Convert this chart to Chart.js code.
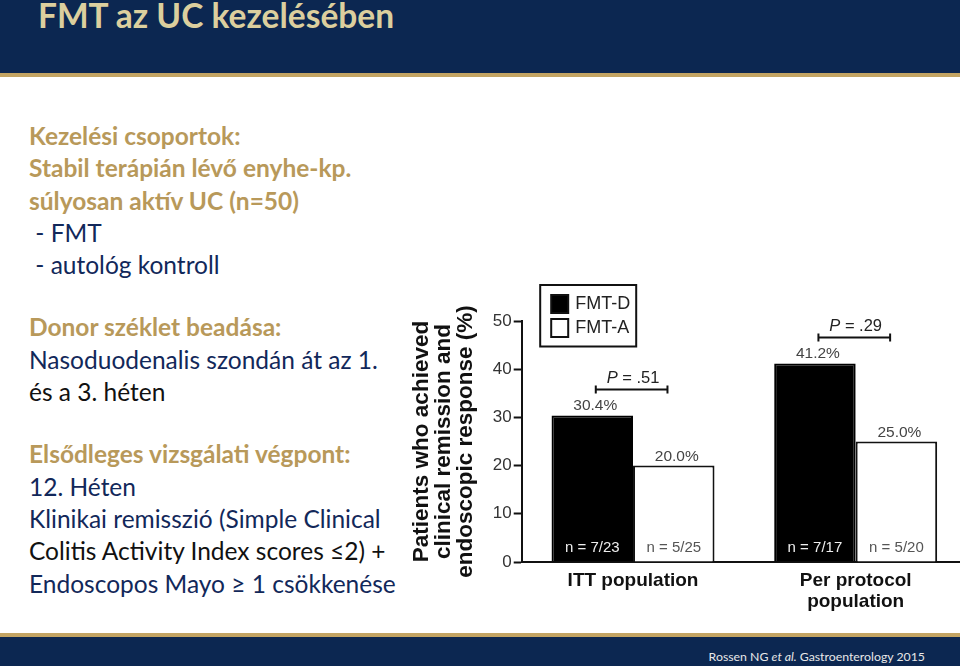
<!DOCTYPE html>
<html>
<head>
<meta charset="utf-8">
<script src="https://cdn.jsdelivr.net/npm/chart.js@4.4.1/dist/chart.umd.min.js"></script>
<style>
  html, body { margin: 0; padding: 0; background: #fff; overflow: hidden; }
  body { width: 960px; height: 666px; position: relative; font-family: Lato, "Liberation Sans", sans-serif; }
  #header { position: absolute; left: 0; top: 0; width: 960px; height: 73px; background: #0c2751; }
  #headerLine { position: absolute; left: 0; top: 73px; width: 960px; height: 4px; background: #c3a463; }
  #title { position: absolute; left: 38px; top: -5px; font-size: 33.5px; font-weight: bold; color: #dccf9e; white-space: nowrap; }
  #footerLine { position: absolute; left: 0; top: 633px; width: 960px; height: 4px; background: #c3a463; }
  #footer { position: absolute; left: 0; top: 637px; width: 960px; height: 29px; background: #0c2751; }
  #cite { position: absolute; right: 35px; top: 649px; font-size: 12.3px; color: #e8e8e8; white-space: nowrap; }
  #text { position: absolute; left: 29px; top: 120px; font-size: 24.5px; line-height: 32.3px; color: #12285a; white-space: nowrap; }
  #text .g { color: #b8995a; font-weight: bold; }
  #text .k { color: #111; }
  #text .gap { height: 30px; }
  #chartBox { position: absolute; left: 400px; top: 280px; width: 570px; height: 340px; }
</style>
</head>
<body>
<div id="header"></div>
<div id="headerLine"></div>
<div id="title">FMT az UC kezelésében</div>

<div id="text">
  <div class="g">Kezelési csoportok:</div>
  <div class="g">Stabil terápián lévő enyhe-kp.</div>
  <div class="g">súlyosan aktív UC (n=50)</div>
  <div>&nbsp;- FMT</div>
  <div>&nbsp;- autológ kontroll</div>
  <div class="gap"></div>
  <div class="g">Donor széklet beadása:</div>
  <div>Nasoduodenalis szondán át az 1.</div>
  <div class="k">és a 3. héten</div>
  <div class="gap"></div>
  <div class="g">Elsődleges vizsgálati végpont:</div>
  <div>12. Héten</div>
  <div>Klinikai remisszió (Simple Clinical</div>
  <div class="k">Colitis Activity Index scores ≤2) +</div>
  <div>Endoscopos Mayo ≥ 1 csökkenése</div>
</div>

<div id="chartBox"><canvas id="chart" width="570" height="340"></canvas></div>

<div id="footerLine"></div>
<div id="footer"></div>
<div id="cite">Rossen NG <i>et al.</i> Gastroenterology 2015</div>

<script>
// Chart values
var categories = [['ITT population'], ['Per protocol', 'population']];
var seriesNames = ['FMT-D', 'FMT-A'];
var fmtD = [30.4, 41.2];
var fmtA = [20.0, 25.0];
var countsD = ['n = 7/23', 'n = 7/17'];
var countsA = ['n = 5/25', 'n = 5/20'];
var pValues = ['.51', '.29'];
var yTicks = [0, 10, 20, 30, 40, 50];

var FONT = '"Liberation Sans", Arial, sans-serif';

// value labels, n labels, P brackets and the boxed legend
var annotations = {
  id: 'annotations',
  afterDatasetsDraw: function (chart) {
    var ctx = chart.ctx;
    var y = chart.scales.y;
    var metaD = chart.getDatasetMeta(0);
    var metaA = chart.getDatasetMeta(1);
    ctx.save();
    ctx.textAlign = 'center';
    ctx.textBaseline = 'alphabetic';
    [metaD, metaA].forEach(function (meta, di) {
      var vals = chart.data.datasets[di].data;
      meta.data.forEach(function (bar, i) {
        ctx.font = '15.5px ' + FONT;
        ctx.fillStyle = '#444';
        ctx.fillText(vals[i].toFixed(1) + '%', bar.x + 3, bar.y - 5);
        ctx.font = '15px ' + FONT;
        ctx.fillStyle = di === 0 ? '#eee' : '#555';
        ctx.fillText(di === 0 ? countsD[i] : countsA[i], bar.x, y.getPixelForValue(0) - 10);
      });
    });
    // P-value brackets
    metaD.data.forEach(function (barD, i) {
      var barA = metaA.data[i];
      var top = Math.min(barD.y, barA.y) - 26;
      var x1 = barD.x + 3.5, x2 = barA.x - 6.3;
      ctx.strokeStyle = '#111';
      ctx.lineWidth = 2;
      ctx.beginPath();
      ctx.moveTo(x1, top - 4); ctx.lineTo(x1, top + 4);
      ctx.moveTo(x1, top); ctx.lineTo(x2, top);
      ctx.moveTo(x2, top - 4); ctx.lineTo(x2, top + 4);
      ctx.stroke();
      var cx = (barD.x + barA.x) / 2;
      ctx.font = 'italic 16.5px ' + FONT;
      var pW = ctx.measureText('P').width;
      ctx.font = '16.5px ' + FONT;
      var rest = ' = ' + pValues[i];
      var rW = ctx.measureText(rest).width;
      var x0 = cx - (pW + rW) / 2;
      ctx.fillStyle = '#222';
      ctx.textAlign = 'left';
      ctx.font = 'italic 16.5px ' + FONT;
      ctx.fillText('P', x0, top - 6);
      ctx.font = '16.5px ' + FONT;
      ctx.fillText(rest, x0 + pW, top - 6);
      ctx.textAlign = 'center';
    });
    // legend box
    var ca = chart.chartArea;
    var lx = ca.left + 18.5, ly = ca.top - 36;
    ctx.lineWidth = 2;
    ctx.strokeStyle = '#111';
    ctx.strokeRect(lx, ly, 96, 61.5);
    ctx.font = '18px ' + FONT;
    ctx.textAlign = 'left';
    ctx.textBaseline = 'middle';
    chart.data.datasets.forEach(function (ds, di) {
      var sy = ly + 10 + di * 24;
      ctx.fillStyle = ds.backgroundColor;
      ctx.fillRect(lx + 11, sy, 17, 18);
      ctx.strokeRect(lx + 11, sy, 17, 18);
      ctx.fillStyle = '#222';
      ctx.fillText(ds.label, lx + 35, sy + 9.5);
    });
    ctx.restore();
  }
};

var ctx = document.getElementById('chart').getContext('2d');
var chart = new Chart(ctx, {
  type: 'bar',
  data: {
    labels: categories,
    datasets: [{
      label: seriesNames[0],
      data: fmtD,
      backgroundColor: '#000',
      borderColor: '#000',
      borderWidth: 2,
      borderSkipped: 'bottom'
    }, {
      label: seriesNames[1],
      data: fmtA,
      backgroundColor: '#fff',
      borderColor: '#111',
      borderWidth: 2,
      borderSkipped: 'bottom'
    }]
  },
  plugins: [annotations],
  options: {
    responsive: false,
    animation: false,
    categoryPercentage: 0.732,
    barPercentage: 1.0,
    layout: { padding: { top: 41, right: 3, left: 0, bottom: 0 } },
    plugins: {
      legend: { display: false },
      tooltip: { enabled: false }
    },
    scales: {
      x: {
        afterFit: function (s) { s.height = 58; },
        grid: { display: false, drawTicks: false },
        border: { color: '#111', width: 2 },
        ticks: {
          padding: 8,
          color: '#111',
          font: { family: FONT, size: 19, weight: 'bold', lineHeight: 1.1 }
        }
      },
      y: {
        min: 0,
        max: 50,
        afterFit: function (s) { s.width = 121.7; },
        afterBuildTicks: function (s) { s.ticks = yTicks.map(function (v) { return { value: v }; }); },
        grid: { drawOnChartArea: false, tickLength: 8, tickColor: '#111', tickWidth: 2 },
        border: { color: '#111', width: 2 },
        ticks: {
          padding: 2,
          color: '#333',
          font: { family: FONT, size: 17 }
        },
        title: {
          display: true,
          text: ['Patients who achieved', 'clinical remission and', 'endoscopic response (%)'],
          color: '#111',
          font: { family: FONT, size: 22.5, weight: 'bold', lineHeight: 0.98 },
          padding: { top: 10.5, bottom: 0 }
        }
      }
    }
  }
});
</script>
</body>
</html>
